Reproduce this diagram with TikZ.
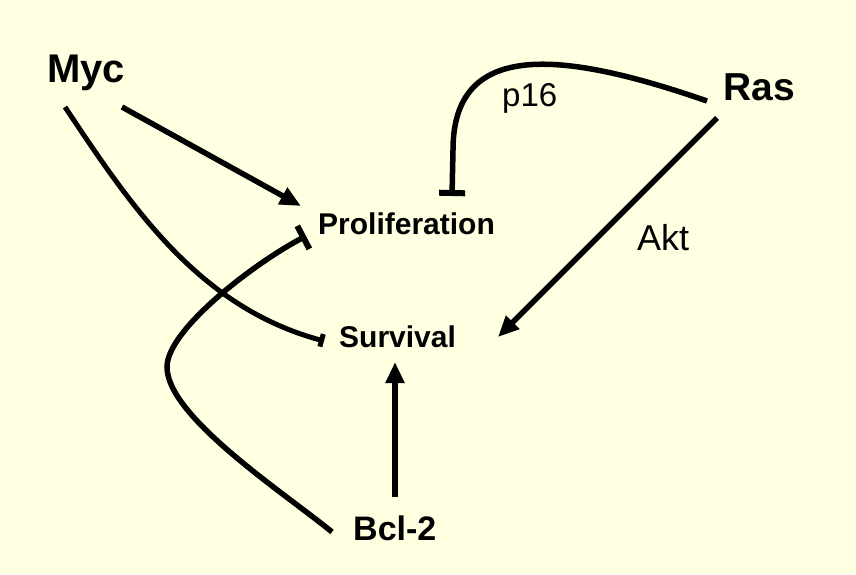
\documentclass[tikz,border=0pt]{standalone}
\usepackage{fontspec}
\setmainfont{Liberation Sans}
\usepackage{xcolor}
\usepackage{tikz}
\usetikzlibrary{positioning,arrows.meta}
\definecolor{paleyellow}{RGB}{255,255,226}

\begin{document}
\begin{tikzpicture}[
    x=1pt, y=-1pt,
    gene/.style={inner sep=0pt, anchor=base west, font=\bfseries},
    lbl/.style={inner sep=0pt, anchor=base west},
    arrow/.style={-{Triangle[length=21pt, width=18pt]}, line width=5.5pt},
    inhib/.style={-{Bar[width=26pt, line width=6pt]}, line width=5.5pt}
]
\fill[paleyellow] (0,0) rectangle (856,574);
\useasboundingbox (0,0) rectangle (856,574);

\node[gene, font=\bfseries\fontsize{40}{48}\selectfont] (myc) at (47,82) {Myc};
\node[gene, font=\bfseries\fontsize{39}{47}\selectfont] (ras) at (723,100) {Ras};
\node[gene, font=\bfseries\fontsize{30}{36}\selectfont] (prolif) at (318,234) {Proliferation};
\node[gene, font=\bfseries\fontsize{30}{36}\selectfont] (surv) at (339,347) {Survival};
\node[gene, font=\bfseries\fontsize{34}{41}\selectfont] (bcl) at (353,540) {Bcl-2};

\node[lbl, font=\fontsize{33}{40}\selectfont] (p16) at (502,106) {p16};
\node[lbl, font=\fontsize{36}{43}\selectfont] (akt) at (637,250) {Akt};

\draw[arrow] ([shift={(75,25)}]myc.base west) -- ([shift={(-17,-28)}]prolif.base west);
\draw[inhib, -{Bar[width=13pt, line width=5pt]}, line width=5pt] ([shift={(18,25)}]myc.base west)
    .. controls (131,206) and (198,307) .. ([shift={(-15,-6)}]surv.base west);

\draw[inhib] ([shift={(-16,1)}]ras.base west)
    .. controls (560,50) and (453,40) .. (453,150) -- ([shift={(134,-38)}]prolif.base west);
\draw[arrow] ([shift={(-6,18)}]ras.base west) -- ([shift={(159,-10)}]surv.base west);

\draw[arrow] ([shift={(42,-43)}]bcl.base west) -- ([shift={(56,15)}]surv.base west);
\draw[inhib] ([shift={(-21,-8)}]bcl.base west)
    .. controls (286,494) and (167,417) .. (167,367)
    .. controls (167,330) and (253,264) .. ([shift={(-12,2)}]prolif.base west);
\end{tikzpicture}
\end{document}
